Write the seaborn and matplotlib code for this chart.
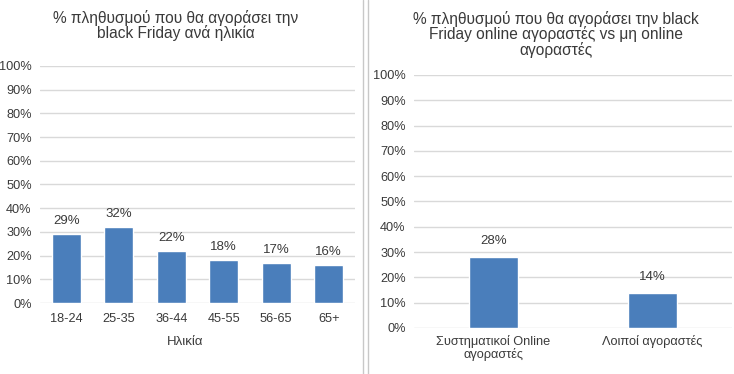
import matplotlib
matplotlib.use("Agg")
import matplotlib.pyplot as plt
import seaborn as sns
import pandas as pd
from matplotlib.lines import Line2D
from matplotlib.ticker import PercentFormatter, MultipleLocator

# Data
age_groups = ["18-24", "25-35", "36-44", "45-55", "56-65", "65+"]
age_values = [0.29, 0.32, 0.22, 0.18, 0.17, 0.16]
buyer_groups = ["Συστηματικοί Online\nαγοραστές", "Λοιποί αγοραστές"]
buyer_values = [0.28, 0.14]

title_left = "% πληθυσμού που θα αγοράσει την\nblack Friday ανά ηλικία"
title_right = "% πληθυσμού που θα αγοράσει την black\nFriday online αγοραστές vs μη online\nαγοραστές"
xlabel_left = "Ηλικία"

sns.set_theme(style="white")
plt.rcParams["font.family"] = ["Liberation Sans", "DejaVu Sans"]

BAR = "#4a7ebb"
GRID = "#d9d9d9"
TXT = "#3a3a3a"

W, H = 734, 374
fig = plt.figure(figsize=(W / 100, H / 100), dpi=100)
fig.patch.set_facecolor("white")


def px_axes(x0, x1, ytop, ybot):
    return fig.add_axes([x0 / W, (H - ybot) / H, (x1 - x0) / W, (ybot - ytop) / H])


def style(ax):
    ax.set_ylim(0, 1.0)
    ax.yaxis.set_major_locator(MultipleLocator(0.1))
    ax.yaxis.set_major_formatter(PercentFormatter(1.0, decimals=0))
    ax.grid(axis="y", color=GRID, linewidth=1)
    ax.set_axisbelow(True)
    for s in ax.spines.values():
        s.set_visible(False)
    ax.tick_params(axis="both", length=0, labelsize=9.2, colors=TXT)
    ax.tick_params(axis="y", pad=6)
    ax.set_ylabel("")


# Left chart
ax1 = px_axes(40, 355, 66, 303)
df1 = pd.DataFrame({"age": age_groups, "val": age_values})
sns.barplot(data=df1, x="age", y="val", color=BAR, width=0.55, saturation=1, ax=ax1)
style(ax1)
ax1.tick_params(axis="x", pad=7)
ax1.set_xlabel("")
for c in ax1.containers:
    ax1.bar_label(c, labels=[f"{v*100:.0f}%" for v in c.datavalues], padding=5, fontsize=9.5, color=TXT)
fig.text(176 / W, 1 - 10 / H, title_left, ha="center", va="top", fontsize=11.2,
         color=TXT, linespacing=0.95, multialignment="center")
fig.text(185 / W, 1 - 342 / H, xlabel_left, ha="center", va="center", fontsize=9.5, color=TXT)

# Right chart
ax2 = px_axes(414, 732, 75, 328)
df2 = pd.DataFrame({"grp": buyer_groups, "val": buyer_values})
sns.barplot(data=df2, x="grp", y="val", color=BAR, width=0.31, saturation=1, ax=ax2)
style(ax2)
ax2.tick_params(axis="x", pad=5)
for lab in ax2.get_xticklabels():
    lab.set_linespacing(1.0)
ax2.set_xlabel("")
for c in ax2.containers:
    ax2.bar_label(c, labels=[f"{v*100:.0f}%" for v in c.datavalues], padding=7, fontsize=9.5, color=TXT)
fig.text(556 / W, 1 - 11 / H, title_right, ha="center", va="top", fontsize=11.2,
         color=TXT, linespacing=0.95, multialignment="center")

# Panel separator lines
for xp in (363, 368):
    fig.add_artist(Line2D([xp / W, xp / W], [0, 1], color="#c8c8c8", linewidth=1))

fig.savefig("out.png", dpi=100, facecolor="white")
